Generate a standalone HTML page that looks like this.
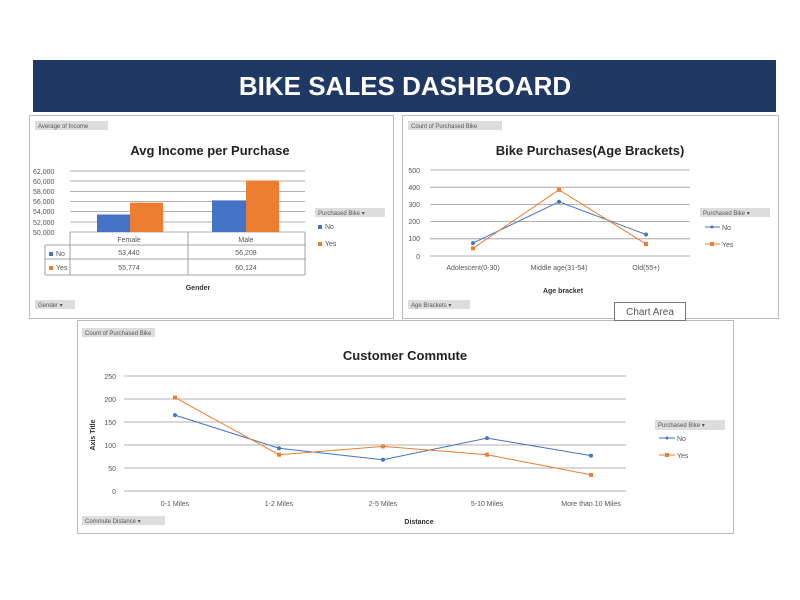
<!DOCTYPE html>
<html><head><meta charset="utf-8"><style>
body{margin:0;background:#fff;}
svg{display:block;font-family:"Liberation Sans",sans-serif;}
</style></head><body>
<svg width="800" height="600" viewBox="0 0 800 600">
<rect width="800" height="600" fill="#fff"/>
<rect x="33" y="60" width="743" height="52" fill="#1f3864"/>
<text x="405" y="95" font-size="26" font-weight="bold" fill="#fff" text-anchor="middle">BIKE SALES DASHBOARD</text>

<!-- Panel 1 -->
<rect x="29.5" y="115.5" width="364" height="203" fill="#fff" stroke="#bbb"/>
<rect x="35" y="121" width="73" height="9" fill="#ddd"/><text x="38" y="128" font-size="6" fill="#555">Average of Income</text>
<text x="210" y="155" font-size="13" font-weight="bold" text-anchor="middle" fill="#222">Avg Income per Purchase</text>
<g stroke="#999" stroke-width="0.8">
<line x1="70" y1="171" x2="305" y2="171"/><line x1="70" y1="181" x2="305" y2="181"/><line x1="70" y1="191.5" x2="305" y2="191.5"/><line x1="70" y1="201.5" x2="305" y2="201.5"/><line x1="70" y1="211.5" x2="305" y2="211.5"/><line x1="70" y1="222" x2="305" y2="222"/><line x1="70" y1="232" x2="305" y2="232"/>
</g>
<g font-size="7" fill="#555">
<text x="33" y="174">62,000</text><text x="33" y="184">60,000</text><text x="33" y="194">58,000</text><text x="33" y="204">56,000</text><text x="33" y="214">54,000</text><text x="33" y="225">52,000</text><text x="33" y="235">50,000</text>
</g>
<rect x="97" y="214.5" width="33" height="17.5" fill="#4472c4"/>
<rect x="130" y="202.7" width="33" height="29.3" fill="#ed7d31"/>
<rect x="212" y="200.4" width="34" height="31.6" fill="#4472c4"/>
<rect x="246" y="180.5" width="33" height="51.5" fill="#ed7d31"/>
<g stroke="#888" stroke-width="0.8" fill="none">
<line x1="70" y1="232" x2="70" y2="275"/><line x1="188" y1="232" x2="188" y2="275"/><line x1="305" y1="232" x2="305" y2="275"/>
<line x1="45" y1="245" x2="305" y2="245"/><line x1="45" y1="259" x2="305" y2="259"/><line x1="45" y1="275" x2="305" y2="275"/><line x1="45" y1="245" x2="45" y2="275"/>
</g>
<g font-size="7" fill="#555" text-anchor="middle">
<text x="129" y="242">Female</text><text x="246" y="242">Male</text>
<text x="129" y="255">53,440</text><text x="246" y="255">56,208</text>
<text x="129" y="270">55,774</text><text x="246" y="270">60,124</text>
</g>
<rect x="49" y="252" width="4" height="4" fill="#4472c4"/><text x="56" y="256" font-size="7" fill="#555">No</text>
<rect x="49" y="266" width="4" height="4" fill="#ed7d31"/><text x="56" y="270" font-size="7" fill="#555">Yes</text>
<text x="198" y="290" font-size="7" font-weight="bold" fill="#333" text-anchor="middle">Gender</text>
<rect x="315" y="208" width="70" height="9" fill="#ddd"/><text x="318" y="215" font-size="6" fill="#555">Purchased Bike ▾</text>
<rect x="318" y="225" width="4" height="4" fill="#4472c4"/><text x="325" y="229" font-size="7" fill="#555">No</text>
<rect x="318" y="242" width="4" height="4" fill="#ed7d31"/><text x="325" y="246" font-size="7" fill="#555">Yes</text>
<rect x="35" y="300" width="40" height="9" fill="#ddd"/><text x="38" y="307" font-size="6" fill="#555">Gender ▾</text>

<!-- Panel 2 -->
<rect x="402.5" y="115.5" width="376" height="203" fill="#fff" stroke="#bbb"/>
<rect x="408" y="121" width="94" height="9" fill="#ddd"/><text x="411" y="128" font-size="6" fill="#555">Count of Purchased Bike</text>
<text x="590" y="155" font-size="13" font-weight="bold" text-anchor="middle" fill="#222">Bike Purchases(Age Brackets)</text>
<g stroke="#999" stroke-width="0.8">
<line x1="430" y1="170" x2="690" y2="170"/><line x1="430" y1="187.2" x2="690" y2="187.2"/><line x1="430" y1="204.4" x2="690" y2="204.4"/><line x1="430" y1="221.6" x2="690" y2="221.6"/><line x1="430" y1="238.8" x2="690" y2="238.8"/><line x1="430" y1="256" x2="690" y2="256"/>
</g>
<g font-size="7" fill="#555" text-anchor="end">
<text x="420" y="173">500</text><text x="420" y="190">400</text><text x="420" y="207">300</text><text x="420" y="224">200</text><text x="420" y="241">100</text><text x="420" y="259">0</text>
</g>
<polyline points="473,243.1 559,201.8 646,234.5" fill="none" stroke="#4472c4" stroke-width="1"/>
<polyline points="473,248.3 559,189.8 646,244" fill="none" stroke="#ed7d31" stroke-width="1"/>
<g fill="#4472c4"><circle cx="473" cy="243.1" r="2"/><circle cx="559" cy="201.8" r="2"/><circle cx="646" cy="234.5" r="2"/></g>
<g fill="#ed7d31"><rect x="471" y="246.3" width="4" height="4"/><rect x="557" y="187.8" width="4" height="4"/><rect x="644" y="242" width="4" height="4"/></g>
<g font-size="7" fill="#555" text-anchor="middle">
<text x="473" y="270">Adolescent(0-30)</text><text x="559" y="270">Middle age(31-54)</text><text x="646" y="270">Old(55+)</text>
</g>
<text x="563" y="293" font-size="7" font-weight="bold" fill="#333" text-anchor="middle">Age bracket</text>
<rect x="700" y="208" width="70" height="9" fill="#ddd"/><text x="703" y="215" font-size="6" fill="#555">Purchased Bike ▾</text>
<line x1="705" y1="227" x2="720" y2="227" stroke="#4472c4"/><circle cx="712" cy="227" r="1.5" fill="#4472c4"/><text x="722" y="230" font-size="7" fill="#555">No</text>
<line x1="705" y1="244" x2="720" y2="244" stroke="#ed7d31"/><rect x="710" y="242" width="4" height="4" fill="#ed7d31"/><text x="722" y="247" font-size="7" fill="#555">Yes</text>
<rect x="408" y="300" width="62" height="9" fill="#ddd"/><text x="411" y="307" font-size="6" fill="#555">Age Brackets ▾</text>

<!-- Panel 3 -->
<rect x="77.5" y="320.5" width="656" height="213" fill="#fff" stroke="#bbb"/>
<rect x="614.5" y="302.5" width="71" height="18" fill="#fff" stroke="#777"/>
<text x="650" y="315" font-size="10" fill="#555" text-anchor="middle">Chart Area</text>
<rect x="82" y="328" width="73" height="9" fill="#ddd"/><text x="85" y="335" font-size="6" fill="#555">Count of Purchased Bike</text>
<text x="405" y="360" font-size="13" font-weight="bold" text-anchor="middle" fill="#222">Customer  Commute</text>
<g stroke="#999" stroke-width="0.8">
<line x1="124" y1="376" x2="626" y2="376"/><line x1="124" y1="399" x2="626" y2="399"/><line x1="124" y1="422" x2="626" y2="422"/><line x1="124" y1="445" x2="626" y2="445"/><line x1="124" y1="468" x2="626" y2="468"/><line x1="124" y1="491" x2="626" y2="491"/>
</g>
<g font-size="7" fill="#555" text-anchor="end">
<text x="116" y="379">250</text><text x="116" y="402">200</text><text x="116" y="425">150</text><text x="116" y="448">100</text><text x="116" y="471">50</text><text x="116" y="494">0</text>
</g>
<text transform="translate(95,435) rotate(-90)" font-size="7" font-weight="bold" fill="#333" text-anchor="middle">Axis Title</text>
<polyline points="175,415.1 279,448.2 383,459.7 487,438.1 591,455.6" fill="none" stroke="#4472c4" stroke-width="1"/>
<polyline points="175,397.6 279,454.7 383,446.4 487,454.7 591,474.9" fill="none" stroke="#ed7d31" stroke-width="1"/>
<g fill="#4472c4"><circle cx="175" cy="415.1" r="2"/><circle cx="279" cy="448.2" r="2"/><circle cx="383" cy="459.7" r="2"/><circle cx="487" cy="438.1" r="2"/><circle cx="591" cy="455.6" r="2"/></g>
<g fill="#ed7d31"><rect x="173" y="395.6" width="4" height="4"/><rect x="277" y="452.7" width="4" height="4"/><rect x="381" y="444.4" width="4" height="4"/><rect x="485" y="452.7" width="4" height="4"/><rect x="589" y="472.9" width="4" height="4"/></g>
<g font-size="7" fill="#555" text-anchor="middle">
<text x="175" y="506">0-1 Miles</text><text x="279" y="506">1-2 Miles</text><text x="383" y="506">2-5 Miles</text><text x="487" y="506">5-10 Miles</text><text x="591" y="506">More than 10 Miles</text>
</g>
<text x="419" y="524" font-size="7" font-weight="bold" fill="#333" text-anchor="middle">Distance</text>
<rect x="655" y="420" width="70" height="10" fill="#ddd"/><text x="658" y="427" font-size="6" fill="#555">Purchased Bike ▾</text>
<line x1="659" y1="438" x2="675" y2="438" stroke="#4472c4"/><circle cx="667" cy="438" r="1.5" fill="#4472c4"/><text x="677" y="441" font-size="7" fill="#555">No</text>
<line x1="659" y1="455" x2="675" y2="455" stroke="#ed7d31"/><rect x="665" y="453" width="4" height="4" fill="#ed7d31"/><text x="677" y="458" font-size="7" fill="#555">Yes</text>
<rect x="82" y="516" width="83" height="9" fill="#ddd"/><text x="85" y="523" font-size="6" fill="#555">Commute Distance ▾</text>
</svg>
</body></html>
